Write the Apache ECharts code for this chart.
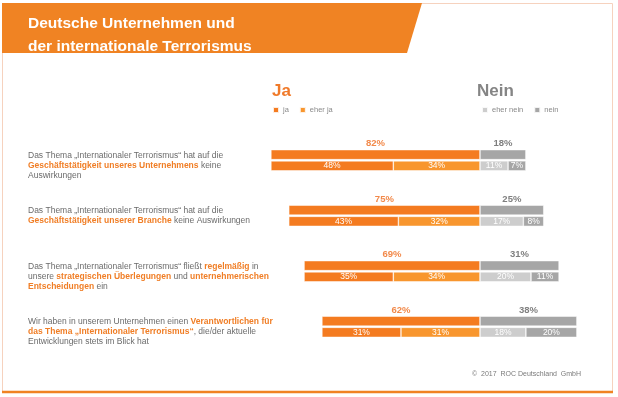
<!DOCTYPE html>
<html>
<head>
<meta charset="utf-8">
<script src="https://cdn.jsdelivr.net/npm/echarts@6/dist/echarts.min.js"></script>
<style>
  html, body { margin: 0; padding: 0; background: #fff; }
  #chart { width: 618px; height: 397px; }
</style>
</head>
<body>
<div id="chart"></div>
<script>
// Aussagen (links), rich-text: {n|normal} {o|orange fett}, {s| } = Abstandszeile
const categories = [
  '{s| }\n{n|Das Thema „Internationaler Terrorismus“ hat auf die}\n{o|Geschäftstätigkeit unseres Unternehmens}{n| keine}\n{n|Auswirkungen}',
  '{n|Das Thema „Internationaler Terrorismus“ hat auf die}\n{o|Geschäftstätigkeit unserer Branche}{n| keine Auswirkungen}',
  '{s| }\n{n|Das Thema „Internationaler Terrorismus“ fließt }{o|regelmäßig}{n| in}\n{n|unsere }{o|strategischen Überlegungen}{n| und }{o|unternehmerischen}\n{o|Entscheidungen}{n| ein}',
  '{s| }\n{n|Wir haben in unserem Unternehmen einen }{o|Verantwortlichen für}\n{o|das Thema „Internationaler Terrorismus“}{n|, die/der aktuelle}\n{n|Entwicklungen stets im Blick hat}'
]
const jaTotal = [82, 75, 69, 62]
const neinTotal = [18, 25, 31, 38]
const ja = [48, 43, 35, 31]
const eherJa = [34, 32, 34, 31]
const eherNein = [11, 17, 20, 18]
const nein = [7, 8, 11, 20]

const ORANGE = '#F47B20'
const ORANGE_LIGHT = '#F8962E'
const GRAY = '#A6A6A6'
const GRAY_LIGHT = '#CDCDCD'

const neg = arr => arr.map(v => -v)
const pct = p => Math.abs(p.value) + '%'

const detailLabel = {
  show: true,
  position: 'inside',
  color: '#fff',
  fontSize: 8.5,
  fontFamily: 'Liberation Sans',
  formatter: pct
}
const barBase = {
  type: 'bar',
  barWidth: 10,
  barGap: '12%'
}
const border = { borderColor: 'rgba(255,255,255,0.85)', borderWidth: 0.6 }

let chart = echarts.init(document.getElementById('chart'))
chart.setOption({
  animation: false,
  backgroundColor: '#fff',
  textStyle: { fontFamily: 'Liberation Sans' },
  graphic: [
    // Rahmen
    {
      type: 'rect', z: 0, silent: true,
      shape: { x: 2.5, y: 3.5, width: 610, height: 388 },
      style: { fill: null, stroke: '#F6D2BE', lineWidth: 1 }
    },
    {
      type: 'line', z: 1, silent: true,
      shape: { x1: 2, y1: 392, x2: 613, y2: 392 },
      style: { stroke: '#F08323', lineWidth: 2.5 }
    },
    // Kopfbalken
    {
      type: 'polygon', z: 1, silent: true,
      shape: { points: [[2, 3], [422, 3], [407, 53], [2, 53]] },
      style: { fill: '#F08323' }
    }
  ],
  title: [
    {
      text: 'Deutsche Unternehmen und\nder internationale Terrorismus',
      left: 28, top: 12.5, padding: 0, z: 5,
      textStyle: { color: '#fff', fontSize: 15.5, fontWeight: 'bold', lineHeight: 23, fontFamily: 'Liberation Sans' }
    },
    {
      text: 'Ja', left: 272, top: 82.5, padding: 0,
      textStyle: { color: '#F07A2A', fontSize: 17, fontWeight: 'bold', lineHeight: 17, fontFamily: 'Liberation Sans' }
    },
    {
      text: 'Nein', left: 477, top: 82.5, padding: 0,
      textStyle: { color: '#858585', fontSize: 17, fontWeight: 'bold', lineHeight: 17, fontFamily: 'Liberation Sans' }
    },
    {
      text: '©  2017  ROC Deutschland  GmbH', left: 472, top: 370, padding: 0,
      textStyle: { color: '#7a7a7a', fontSize: 7, fontWeight: 'normal', lineHeight: 8, fontFamily: 'Liberation Sans' }
    }
  ],
  legend: [
    {
      data: ['ja', 'eher ja'],
      left: 272, top: 106, padding: 0,
      itemWidth: 6, itemHeight: 6, itemGap: 10,
      icon: 'rect',
      textStyle: { color: '#8a8a8a', fontSize: 7.5, padding: [0, 0, 0, -1] }
    },
    {
      data: ['eher nein', 'nein'],
      left: 481, top: 106, padding: 0,
      itemWidth: 6, itemHeight: 6, itemGap: 10,
      icon: 'rect',
      textStyle: { color: '#8a8a8a', fontSize: 7.5, padding: [0, 0, 0, -1] }
    }
  ],
  grid: { left: 250.5, right: 10.5, top: 132.5, bottom: 42.5 },
  xAxis: {
    type: 'value', min: -90, max: 50,
    show: false
  },
  yAxis: {
    type: 'category',
    inverse: true,
    data: categories,
    axisLine: { show: false },
    axisTick: { show: false },
    splitLine: { show: false },
    axisLabel: {
      align: 'left',
      margin: 222.5,
      formatter: v => v,
      rich: {
        n: { color: '#6b6b6b', fontSize: 8.5, lineHeight: 10, fontFamily: 'Liberation Sans' },
        o: { color: '#F07E26', fontSize: 8.5, lineHeight: 10, fontWeight: 'bold', fontFamily: 'Liberation Sans' },
        s: { fontSize: 8, lineHeight: 10 }
      }
    }
  },
  series: [
    Object.assign({}, barBase, {
      name: 'Ja gesamt', stack: 'total',
      data: neg(jaTotal),
      itemStyle: Object.assign({ color: ORANGE }, border),
      label: { show: true, position: 'top', distance: 1, color: '#F2894A', fontSize: 9.5, fontWeight: 'bold', formatter: pct }
    }),
    Object.assign({}, barBase, {
      name: 'Nein gesamt', stack: 'total',
      data: neinTotal,
      itemStyle: Object.assign({ color: GRAY }, border),
      label: { show: true, position: 'top', distance: 1, color: '#7f7f7f', fontSize: 9.5, fontWeight: 'bold', formatter: pct }
    }),
    Object.assign({}, barBase, {
      name: 'eher ja', stack: 'detail',
      data: neg(eherJa),
      itemStyle: Object.assign({ color: ORANGE_LIGHT }, border),
      label: detailLabel
    }),
    Object.assign({}, barBase, {
      name: 'ja', stack: 'detail',
      data: neg(ja),
      itemStyle: Object.assign({ color: ORANGE }, border),
      label: detailLabel
    }),
    Object.assign({}, barBase, {
      name: 'eher nein', stack: 'detail',
      data: eherNein,
      itemStyle: Object.assign({ color: GRAY_LIGHT }, border),
      label: detailLabel
    }),
    Object.assign({}, barBase, {
      name: 'nein', stack: 'detail',
      data: nein,
      itemStyle: Object.assign({ color: GRAY }, border),
      label: detailLabel
    })
  ]
})
</script>
</body>
</html>
